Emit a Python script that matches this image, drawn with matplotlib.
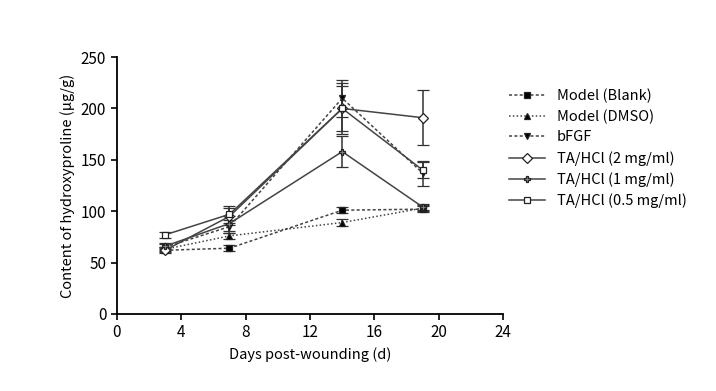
import matplotlib.pyplot as plt
from matplotlib.lines import Line2D

plt.rcParams['font.family'] = ['Noto Sans CJK SC', 'DejaVu Sans']

days = [3, 7, 14, 19]

blank = [62, 64, 101, 102]
blank_err = [2, 3, 3, 3]
dmso = [63, 76, 89, 103]
dmso_err = [2, 3, 3, 3]
bfgf = [65, 85, 210, 137]
bfgf_err = [3, 6, 18, 12]
ta2 = [62, 95, 200, 191]
ta2_err = [3, 8, 25, 27]
ta1 = [66, 88, 158, 104]
ta1_err = [3, 7, 15, 3]
ta05 = [77, 97, 200, 140]
ta05_err = [3, 8, 22, 8]

labels = ['Model (Blank)', 'Model (DMSO)', 'bFGF',
          'TA/HCl (2 mg/ml)', 'TA/HCl (1 mg/ml)', 'TA/HCl (0.5 mg/ml)']

fig = plt.figure(figsize=(7.16, 3.91), dpi=100)
ax = fig.add_axes([0.163, 0.197, 0.54, 0.657])

series = [
    (blank, blank_err, 's', 'black', (0, (2, 1.5))),
    (dmso, dmso_err, '^', 'black', (0, (1, 1.5))),
    (bfgf, bfgf_err, 'v', 'black', (0, (2, 1.5))),
    (ta2, ta2_err, 'D', 'white', '-'),
    (ta1, ta1_err, 'P', '#888888', '-'),
    (ta05, ta05_err, 's', 'white', '-'),
]

handles = []
for (vals, err, mk, fc, ls), lab in zip(series, labels):
    style = dict(color='#444444', lw=1.1, ls=ls, marker=mk, ms=5, mfc=fc,
                 mec='#222222', mew=0.9)
    ax.errorbar(days, vals, yerr=err, ecolor='#333333', elinewidth=1.1,
                capsize=4, capthick=1.1, **style)
    handles.append(Line2D([], [], label=lab, **style))

ax.set_xlim(0, 24)
ax.set_ylim(0, 250)
ax.set_xticks(range(0, 25, 4))
ax.set_yticks(range(0, 251, 50))
ax.spines['top'].set_visible(False)
ax.spines['right'].set_visible(False)
ax.spines['left'].set_linewidth(1.3)
ax.spines['bottom'].set_linewidth(1.3)
ax.tick_params(direction='out', length=4, width=1.2, labelsize=11)
ax.set_xlabel('Days post-wounding (d)', fontsize=10.5)
ax.set_ylabel('Content of hydroxyproline (μg/g)', fontsize=10.5)

ax.legend(handles=handles, loc='upper left', bbox_to_anchor=(0.98, 0.93),
          frameon=False, fontsize=10.5, handlelength=2.5, labelspacing=0.45)

fig.savefig('out.png', dpi=100)
